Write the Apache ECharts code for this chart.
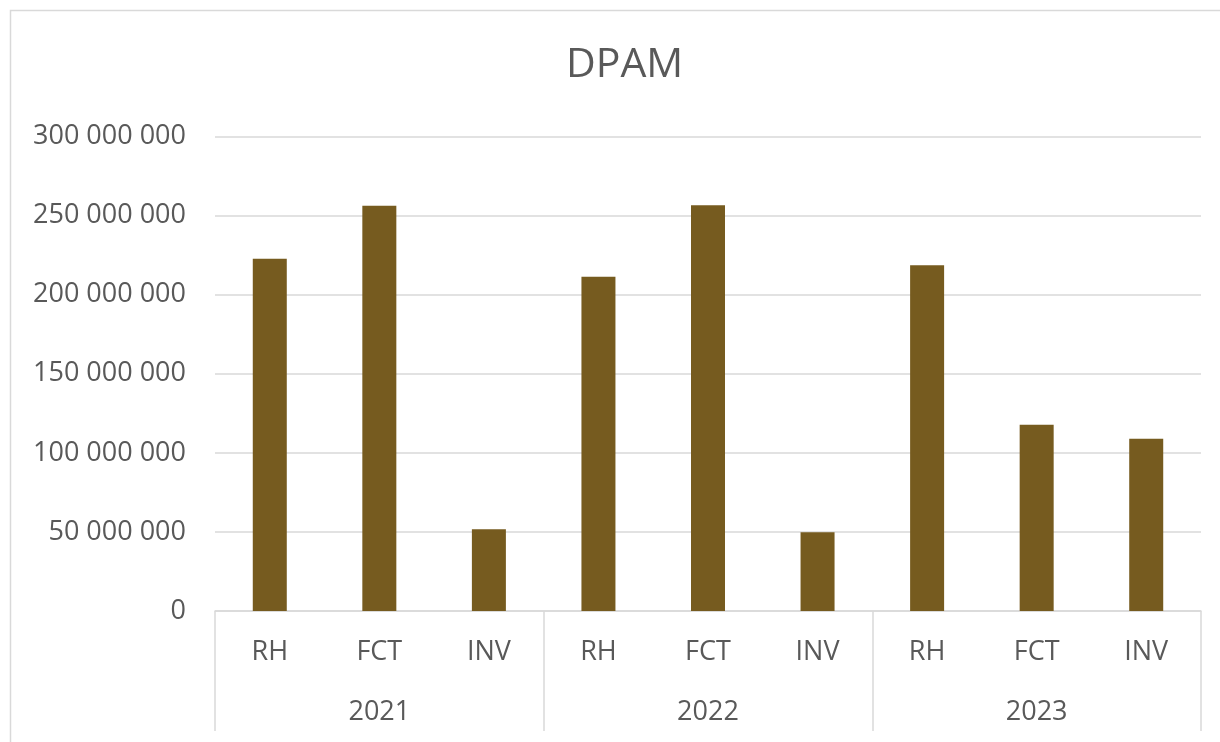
<!DOCTYPE html>
<html>
<head>
<meta charset="utf-8">
<script src="https://cdn.jsdelivr.net/npm/echarts@6/dist/echarts.min.js"></script>
<style>
html,body{margin:0;padding:0;background:#fff;}
#chart{width:1220px;height:742px;}
</style>
</head>
<body>
<div id="chart"></div>
<script>
const chartTitle = 'DPAM';
const years = ['2021', '2022', '2023'];
const categories = ['RH', 'FCT', 'INV', 'RH', 'FCT', 'INV', 'RH', 'FCT', 'INV'];
const values = [222700000, 256200000, 51700000, 211400000, 256500000, 49800000, 218600000, 117800000, 108900000];
const yTicks = [0, 50000000, 100000000, 150000000, 200000000, 250000000, 300000000];

const FONT = '"Open Sans", sans-serif';
const TEXT = '#595959';
const LINE = '#d9d9d9';

function fmt(v) {
  return String(v).replace(/\B(?=(\d{3})+(?!\d))/g, ' ');
}

const chart = echarts.init(document.getElementById('chart'), null, {renderer: 'canvas'});
chart.setOption({
  animation: false,
  backgroundColor: '#fff',
  title: {
    text: chartTitle,
    left: 561,
    top: 40,
    textStyle: {fontFamily: FONT, fontSize: 41, fontWeight: 'normal', color: TEXT}
  },
  graphic: [{
    type: 'rect',
    shape: {x: 10.5, y: 10.5, width: 1300, height: 800},
    style: {fill: 'none', stroke: LINE, lineWidth: 1.5},
    silent: true
  }],
  grid: {left: 215, right: 19, top: 136.5, bottom: 131, containLabel: false},
  xAxis: [{
    type: 'category',
    data: categories,
    position: 'bottom',
    axisLine: {show: true, lineStyle: {color: LINE, width: 1.5}},
    axisTick: {show: false},
    axisLabel: {fontFamily: FONT, fontSize: 27, color: TEXT, margin: 28, interval: 0}
  }, {
    type: 'category',
    data: years,
    position: 'bottom',
    axisLine: {show: false},
    axisTick: {show: true, length: 120, lineStyle: {color: LINE, width: 1.5}},
    axisLabel: {fontFamily: FONT, fontSize: 27, color: TEXT, margin: 88, interval: 0}
  }],
  yAxis: {
    type: 'value',
    min: yTicks[0],
    max: yTicks[yTicks.length - 1],
    interval: yTicks[1] - yTicks[0],
    axisLine: {show: false},
    axisTick: {show: false},
    splitLine: {lineStyle: {color: LINE, width: 1.5}},
    axisLabel: {fontFamily: FONT, fontSize: 27, color: TEXT, margin: 29, formatter: fmt}
  },
  series: [{
    type: 'bar',
    xAxisIndex: 0,
    data: values,
    barWidth: 34,
    itemStyle: {color: '#765B1F'}
  }]
});
</script>
</body>
</html>
